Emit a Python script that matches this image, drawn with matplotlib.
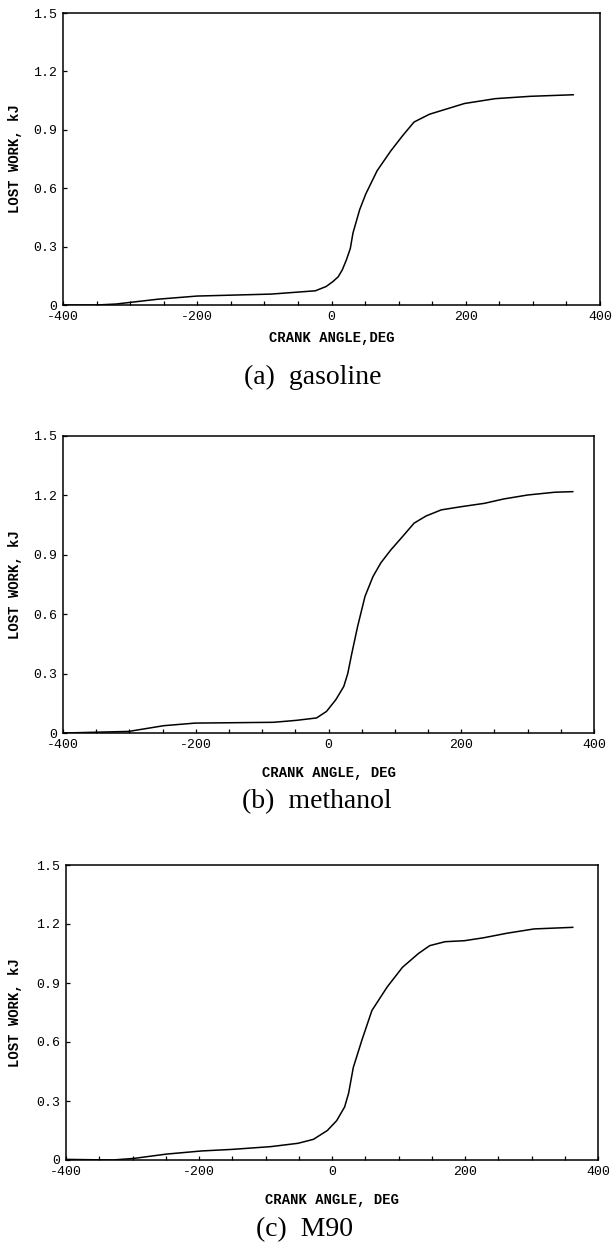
import matplotlib
matplotlib.use("Agg")
import matplotlib.pyplot as plt
from matplotlib.ticker import MultipleLocator, FuncFormatter

plt.rcParams["axes.unicode_minus"] = False

# ---- data ----
gas_x = [-399, -350, -321, -258, -200, -90, -24, -8, 2, 10, 16, 22, 28, 32, 42, 51, 68, 88, 106, 123, 146, 198, 244, 296, 360]
gas_y = [0.0, 0.0, 0.005, 0.03, 0.046, 0.056, 0.073, 0.095, 0.12, 0.145, 0.18, 0.23, 0.29, 0.37, 0.49, 0.57, 0.69, 0.79, 0.87, 0.94, 0.98, 1.035, 1.06, 1.072, 1.08]

meth_x = [-398, -301, -248, -201, -83, -48, -18, -3, 11, 23, 29, 35, 44, 55, 67, 79, 94, 111, 129, 147, 170, 200, 235, 264, 300, 341, 368]
meth_y = [0.0, 0.008, 0.037, 0.05, 0.054, 0.064, 0.076, 0.109, 0.168, 0.235, 0.30, 0.40, 0.54, 0.69, 0.79, 0.86, 0.925, 0.99, 1.06, 1.096, 1.127, 1.143, 1.16, 1.182, 1.202, 1.216, 1.219]

m90_x = [-397, -330, -298, -249, -196, -150, -92, -51, -28, -7, 7, 19, 25, 32, 45, 60, 83, 106, 130, 147, 170, 199, 228, 263, 304, 362]
m90_y = [0.003, 0.0, 0.008, 0.03, 0.046, 0.054, 0.068, 0.085, 0.105, 0.15, 0.20, 0.27, 0.34, 0.47, 0.61, 0.76, 0.88, 0.98, 1.05, 1.09, 1.11, 1.115, 1.13, 1.153, 1.175, 1.183]

captions = ["(a)  gasoline", "(b)  methanol", "(c)  M90"]
xlabels = ["CRANK ANGLE,DEG", "CRANK ANGLE, DEG", "CRANK ANGLE, DEG"]
ylabel = "LOST WORK, kJ"
yticks = [0, 0.3, 0.6, 0.9, 1.2, 1.5]
xticks = [-400, -200, 0, 200, 400]

W, H = 613, 1242
fig = plt.figure(figsize=(W / 100, H / 100), dpi=100)

# pixel boxes: left, right, top, bottom
boxes = [(63, 600, 13, 305), (63, 594, 436, 733), (66, 598, 865, 1160)]
xlab_y = [338, 773, 1200]
cap_y = [377, 802, 1230]
cap_x = [313, 317, 305]
ylab_x = 22

series = [(gas_x, gas_y), (meth_x, meth_y), (m90_x, m90_y)]
mono = "Liberation Mono"

for i, ((l, r, t, b), (xs, ys)) in enumerate(zip(boxes, series)):
    ax = fig.add_axes([l / W, 1 - b / H, (r - l) / W, (b - t) / H])
    ax.plot(xs, ys, color="black", lw=1.1)
    ax.set_xlim(-400, 400)
    ax.set_ylim(0, 1.5)
    ax.set_xticks(xticks)
    ax.xaxis.set_minor_locator(MultipleLocator(50))
    ax.set_yticks(yticks)
    ax.yaxis.set_major_formatter(FuncFormatter(lambda v, p: "0" if abs(v) < 1e-9 else f"{v:.1f}"))
    ax.tick_params(which="both", direction="in", length=3, width=0.9, top=False, right=False)
    ax.tick_params(axis="y", pad=4)
    ax.tick_params(axis="x", pad=4)
    for lab in ax.get_xticklabels() + ax.get_yticklabels():
        lab.set_fontfamily(mono)
        lab.set_fontsize(9.5)
    for s in ax.spines.values():
        s.set_linewidth(1.1)
    ax.set_ylabel(ylabel, fontfamily=mono, fontweight="bold", fontsize=10)
    ax.yaxis.set_label_coords((ylab_x - l) / (r - l), 0.5)
    fig.text((l + r) / 2 / W, 1 - xlab_y[i] / H, xlabels[i], ha="center", va="center",
             fontfamily=mono, fontweight="bold", fontsize=10)
    fig.text(cap_x[i] / W, 1 - cap_y[i] / H, captions[i], ha="center", va="center",
             fontfamily="Liberation Serif", fontsize=20)

fig.savefig("out.png", dpi=100)
